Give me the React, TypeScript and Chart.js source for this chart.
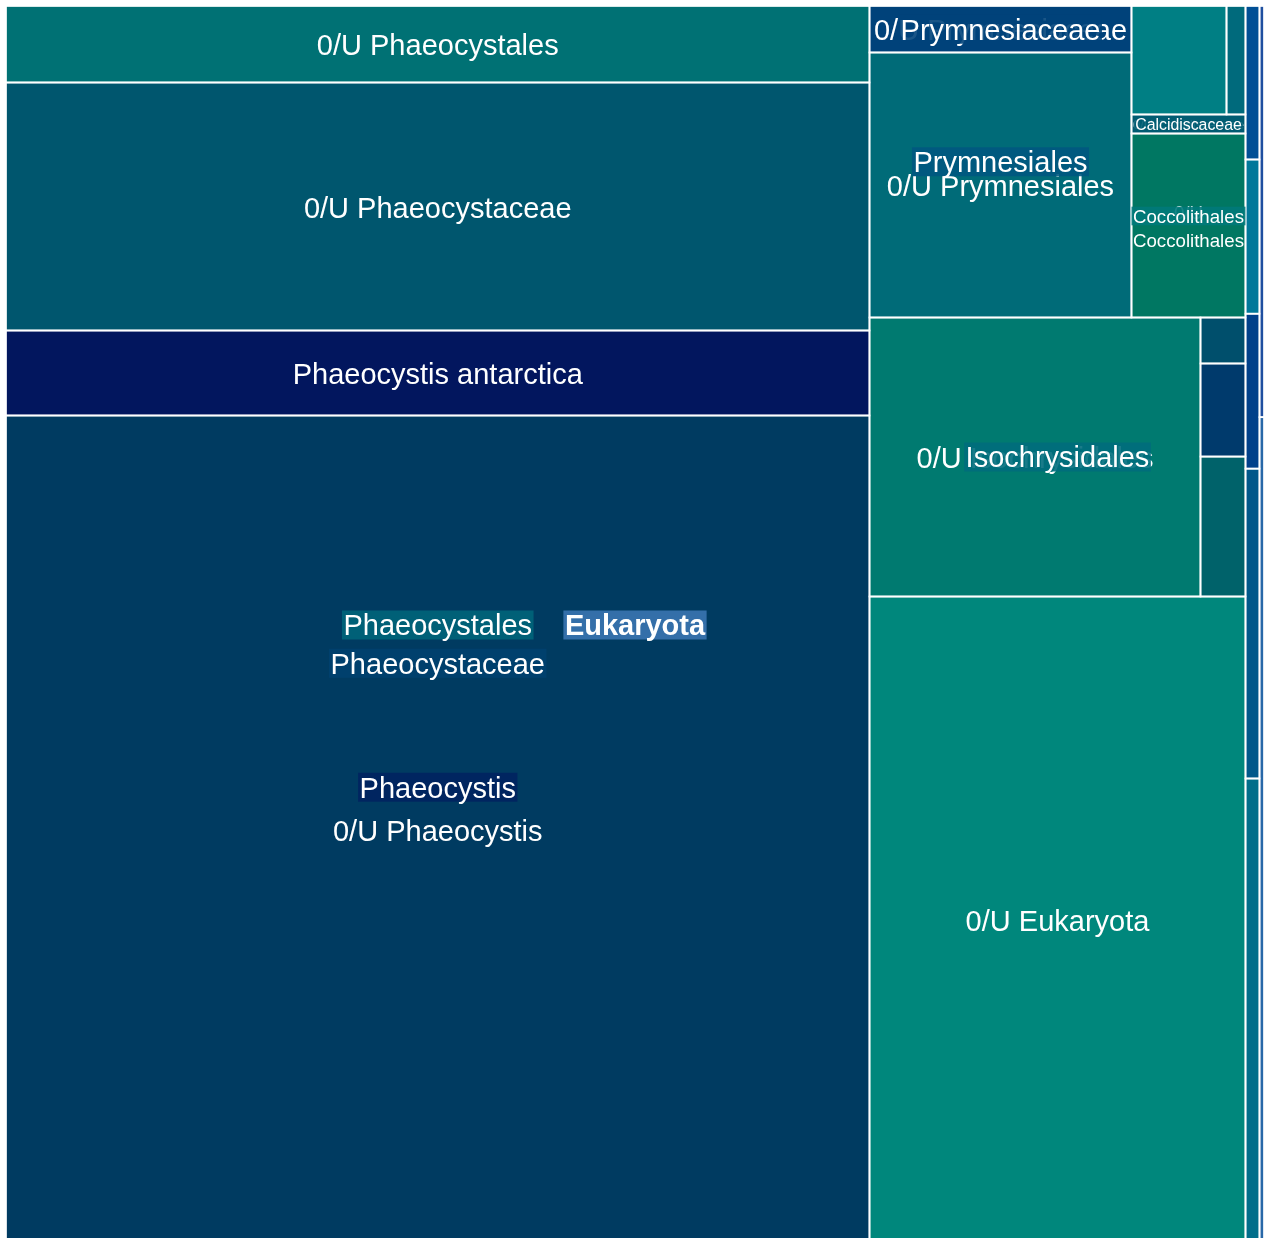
import { useEffect, useRef } from 'react';
import { Chart, registerables } from 'chart.js';

Chart.register(...registerables);

// ---- data (Plotly-like hierarchy: ids / labels / parents / values) ----
const ids = [
  'euk', 'core',
  'phaeocystales', 'u-phaeocystales', 'phaeocystaceae', 'u-phaeocystaceae', 'phaeocystis', 'p-antarctica', 'u-phaeocystis',
  'u-eukaryota',
  'isochrysidales', 'u-isochrysidales', 'iso-1', 'iso-2', 'iso-3',
  'prymnesiales', 'prymnesiaceae', 'u-prymnesiaceae', 'u-prymnesiales',
  'coccolithales', 'calcidiscaceae', 'u-calcidiscaceae', 'u-coccolithales',
  'hap-b', 'hap-c',
  'grp-g', 'g-1', 'g-2', 'g-3', 'g-4', 'g-5',
  'grp-h', 'h-1', 'h-2',
];
const labels = [
  'Eukaryota', '',
  'Phaeocystales', '0/U Phaeocystales', 'Phaeocystaceae', '0/U Phaeocystaceae', 'Phaeocystis', 'Phaeocystis antarctica', '0/U Phaeocystis',
  '0/U Eukaryota',
  'Isochrysidales', '0/U Isochrysidales', '', '', '',
  'Prymnesiales', 'Prymnesiaceae', '0/U Prymnesiaceae', '0/U Prymnesiales',
  'Coccolithales', 'Calcidiscaceae', '0/U Calcidiscaceae', '0/U Coccolithales',
  '', '',
  '', '', '', '', '', '',
  '', '', '',
];
const parents = [
  '', 'euk',
  'core', 'phaeocystales', 'phaeocystales', 'phaeocystaceae', 'phaeocystaceae', 'phaeocystis', 'phaeocystis',
  'core',
  'core', 'isochrysidales', 'isochrysidales', 'isochrysidales', 'isochrysidales',
  'core', 'prymnesiales', 'prymnesiaceae', 'prymnesiales',
  'core', 'coccolithales', 'calcidiscaceae', 'coccolithales',
  'core', 'core',
  'euk', 'grp-g', 'grp-g', 'grp-g', 'grp-g', 'grp-g',
  'euk', 'grp-h', 'grp-h',
];
// leaf values (parents = sum of children)
const values = [
  0, 0,
  0, 6606, 0, 21415, 0, 7340, 71541,
  24346,
  0, 9235, 630, 419, 207,
  0, 0, 1218, 6943,
  0, 0, 217, 2098,
  1031, 206,
  0, 652, 434, 217, 216, 215,
  0, 372, 185,
];

// ---- styles ----
const nodeColors: Record<string, string> = {
  'euk': '#3a76b1',
  'core': '#2a5f90',
  'phaeocystales': '#00657a',
  'u-phaeocystales': '#007174',
  'phaeocystaceae': '#00416f',
  'u-phaeocystaceae': '#00566e',
  'phaeocystis': '#002360',
  'p-antarctica': '#02165e',
  'u-phaeocystis': '#003b61',
  'u-eukaryota': '#00877c',
  'isochrysidales': '#006d7c',
  'u-isochrysidales': '#007a70',
  'iso-1': '#00626a',
  'iso-2': '#003a6c',
  'iso-3': '#004f6c',
  'prymnesiales': '#00587f',
  'prymnesiaceae': '#00427a',
  'u-prymnesiaceae': '#00427a',
  'u-prymnesiales': '#006b78',
  'coccolithales': '#00797a',
  'calcidiscaceae': '#005c72',
  'u-calcidiscaceae': '#005a70',
  'u-coccolithales': '#007762',
  'hap-b': '#007f84',
  'hap-c': '#006a7c',
  'grp-g': '#005a8a',
  'g-1': '#006e8a',
  'g-2': '#00588a',
  'g-3': '#00408a',
  'g-4': '#00789a',
  'g-5': '#004f95',
  'grp-h': '#2060a5',
  'h-1': '#2868a8',
  'h-2': '#1f4fa0',
};
const FONT = '"Liberation Sans", Arial, Helvetica, sans-serif';
const BASE_FONT = 29;
const RATIO = 1;

type TNode = {
  id: string; label: string; value: number; children: TNode[]; depth: number;
  x0: number; y0: number; x1: number; y1: number;
};

function buildTree(): TNode {
  const map = new Map<string, TNode>();
  ids.forEach((id, i) => {
    map.set(id, { id, label: labels[i], value: values[i], children: [], depth: 0, x0: 0, y0: 0, x1: 0, y1: 0 });
  });
  let root: TNode | null = null;
  ids.forEach((id, i) => {
    const n = map.get(id)!;
    if (parents[i]) map.get(parents[i])!.children.push(n);
    else root = n;
  });
  const sum = (n: TNode, d: number): number => {
    n.depth = d;
    if (n.children.length) n.value = n.children.reduce((s, c) => s + sum(c, d + 1), 0);
    n.children.sort((a, b) => b.value - a.value);
    return n.value;
  };
  sum(root!, 0);
  return root!;
}

function dice(nodes: TNode[], total: number, x0: number, y0: number, x1: number, y1: number) {
  const k = total ? (x1 - x0) / total : 0;
  let x = x0;
  for (const n of nodes) { n.y0 = y0; n.y1 = y1; n.x0 = x; x += n.value * k; n.x1 = x; }
}
function slice(nodes: TNode[], total: number, x0: number, y0: number, x1: number, y1: number) {
  const k = total ? (y1 - y0) / total : 0;
  let y = y0;
  for (const n of nodes) { n.x0 = x0; n.x1 = x1; n.y0 = y; y += n.value * k; n.y1 = y; }
}

function squarify(parent: TNode, x0: number, y0: number, x1: number, y1: number) {
  const nodes = parent.children;
  const n = nodes.length;
  let i0 = 0, i1 = 0;
  let value = parent.value;
  while (i0 < n) {
    const dx = x1 - x0, dy = y1 - y0;
    let sumValue = 0;
    do { sumValue = nodes[i1++].value; } while (!sumValue && i1 < n);
    let minValue = sumValue, maxValue = sumValue;
    const alpha = Math.max(dy / dx, dx / dy) / (value * RATIO);
    let beta = sumValue * sumValue * alpha;
    let minRatio = Math.max(maxValue / beta, beta / minValue);
    for (; i1 < n; ++i1) {
      const nv = nodes[i1].value;
      sumValue += nv;
      if (nv < minValue) minValue = nv;
      if (nv > maxValue) maxValue = nv;
      beta = sumValue * sumValue * alpha;
      const newRatio = Math.max(maxValue / beta, beta / minValue);
      if (newRatio > minRatio) { sumValue -= nv; break; }
      minRatio = newRatio;
    }
    const row = nodes.slice(i0, i1);
    if (dx < dy) {
      const ny = value ? y0 + dy * sumValue / value : y1;
      dice(row, sumValue, x0, y0, x1, ny); y0 = ny;
    } else {
      const nx = value ? x0 + dx * sumValue / value : x1;
      slice(row, sumValue, x0, y0, nx, y1); x0 = nx;
    }
    value -= sumValue; i0 = i1;
  }
}

function layout(node: TNode) {
  if (!node.children.length) return;
  if (node.depth === 0) dice(node.children, node.value, node.x0, node.y0, node.x1, node.y1);
  else squarify(node, node.x0, node.y0, node.x1, node.y1);
  node.children.forEach(layout);
}

function emWidth(ctx: CanvasRenderingContext2D, t: string, bold: boolean) {
  ctx.font = `${bold ? 'bold ' : ''}100px ${FONT}`;
  return ctx.measureText(t).width / 100;
}

function fitLabel(ctx: CanvasRenderingContext2D, text: string, w: number, h: number, bold: boolean, allowWrap: boolean) {
  const cands: string[][] = [[text]];
  const sp = text.indexOf(' ');
  if (allowWrap && sp > 0) cands.push([text.slice(0, sp), text.slice(sp + 1)]);
  let best: { size: number; lines: string[] } | null = null;
  for (const lines of cands) {
    const em = Math.max(...lines.map((l) => emWidth(ctx, l, bold)));
    const hf = lines.length === 1 ? 1.2 : lines.length * 1.45;
    const size = Math.min(BASE_FONT, (w - 3) / em, h / hf);
    if (!best || size > best.size + 0.01) best = { size, lines };
  }
  return best!;
}

export default function App() {
  const ref = useRef<HTMLCanvasElement>(null);
  useEffect(() => {
    const canvas = ref.current;
    if (!canvas) return;
    const treemapPlugin = {
      id: 'treemapCells',
      afterDraw(chart: any) {
        const ctx: CanvasRenderingContext2D = chart.ctx;
        const xs = chart.scales.x, ys = chart.scales.y;
        const W = chart.chartArea.right - chart.chartArea.left;
        const H = chart.chartArea.bottom - chart.chartArea.top;
        const root = buildTree();
        root.x0 = 0; root.y0 = 0; root.x1 = W; root.y1 = H;
        layout(root);
        const px = (v: number) => xs.getPixelForValue(v / W);
        const py = (v: number) => ys.getPixelForValue(v / H);
        const rectOf = (n: TNode) => {
          const l = px(n.x0), r = px(n.x1), t = py(n.y1), b = py(n.y0);
          return { l, t, w: r - l, h: b - t };
        };
        const leaves: TNode[] = [];
        const inner: TNode[] = [];
        const walk = (n: TNode) => {
          if (n.children.length) { inner.push(n); n.children.forEach(walk); } else leaves.push(n);
        };
        walk(root);

        ctx.save();
        // cells
        for (const n of leaves) {
          const r = rectOf(n);
          ctx.fillStyle = nodeColors[n.id] || '#004070';
          ctx.fillRect(r.l, r.t, r.w, r.h);
        }
        ctx.strokeStyle = '#ffffff';
        ctx.lineWidth = 1.7;
        for (const n of leaves) {
          const r = rectOf(n);
          ctx.strokeRect(r.l, r.t, r.w, r.h);
        }
        // leaf labels
        ctx.fillStyle = '#ffffff';
        ctx.textAlign = 'center';
        ctx.textBaseline = 'alphabetic';
        for (const n of leaves) {
          if (!n.label) continue;
          const r = rectOf(n);
          const f = fitLabel(ctx, n.label, r.w, r.h, false, true);
          if (f.size < 9) continue;
          ctx.save();
          ctx.beginPath();
          ctx.rect(r.l, r.t, r.w, r.h);
          ctx.clip();
          ctx.font = `${f.size}px ${FONT}`;
          ctx.fillStyle = '#ffffff';
          const cx = r.l + r.w / 2, cy = r.t + r.h / 2;
          f.lines.forEach((line, i) => {
            const ly = cy + (i - (f.lines.length - 1) / 2) * 1.45 * f.size;
            ctx.fillText(line, cx, ly + 0.358 * f.size + 0.8);
          });
          ctx.restore();
        }
        // parent labels with background
        for (const n of inner) {
          if (!n.label) continue;
          const r = rectOf(n);
          const bold = n.depth === 0;
          const f = fitLabel(ctx, n.label, r.w, r.h, bold, false);
          if (f.size < 9) continue;
          ctx.font = `${bold ? 'bold ' : ''}${f.size}px ${FONT}`;
          const tw = ctx.measureText(n.label).width;
          const cx = r.l + r.w / 2, cy = r.t + r.h / 2;
          ctx.globalAlpha = 0.9;
          ctx.fillStyle = nodeColors[n.id] || '#3a76b1';
          ctx.fillRect(cx - tw / 2 - 1.5, cy - f.size / 2, tw + 3, f.size);
          ctx.globalAlpha = 1;
          ctx.fillStyle = '#ffffff';
          ctx.fillText(n.label, cx, cy + 0.358 * f.size);
        }
        ctx.restore();
      },
    };
    const chart = new Chart(canvas, {
      type: 'scatter',
      data: { datasets: [] },
      options: {
        animation: false,
        responsive: false,
        maintainAspectRatio: false,
        layout: { padding: { left: 6, top: 6, right: 2, bottom: 6 } },
        scales: {
          x: { type: 'linear', min: 0, max: 1, display: false },
          y: { type: 'linear', min: 0, max: 1, display: false },
        },
        plugins: { legend: { display: false }, tooltip: { enabled: false } },
      },
      plugins: [treemapPlugin],
    });
    return () => chart.destroy();
  }, []);
  return (
    <div style={{ position: 'fixed', left: 0, top: 0, width: 1266, height: 1238, overflow: 'hidden', background: '#ffffff' }}>
      <canvas ref={ref} width={1266} height={1250} style={{ display: 'block', width: 1266, height: 1250 }} />
    </div>
  );
}
